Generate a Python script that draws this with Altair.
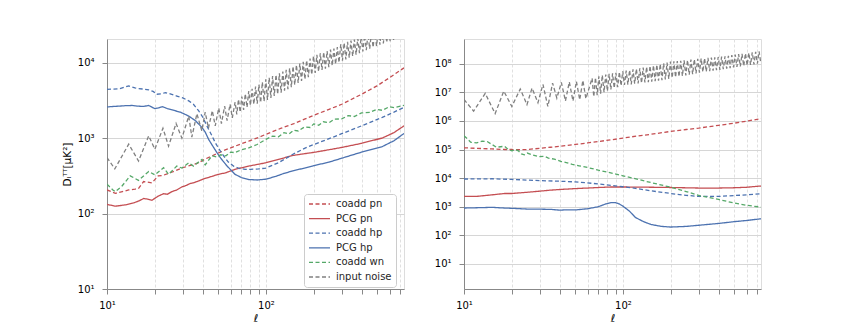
import altair as alt
import pandas as pd

SERIES = ["coadd pn", "PCG pn", "coadd hp", "PCG hp", "coadd wn", "input noise"]
COLORS = ["#C44E52", "#C44E52", "#4C72B0", "#4C72B0", "#55A868", "#808080"]
DASHES = [[4, 2.5], [1, 0], [4, 2.5], [1, 0], [4, 2.5], [4, 2.5]]
L_WIDTHS = [1.3, 1.3, 1.3, 1.3, 1.5, 1.3]
R_WIDTHS = [1.3, 1.3, 1.3, 1.3, 1.8, 1.3]

X_TICKS = [10, 20, 30, 40, 50, 60, 70, 80, 90, 100, 200, 300, 400, 500, 600, 700]
L_Y_TICKS = [10, 100, 1000, 10000]
R_Y_TICKS = [10, 1e2, 1e3, 1e4, 1e5, 1e6, 1e7, 1e8]

# ---------------- left panel ----------------
L_coadd_pn_ell = [10, 11.3, 12.5, 13.7, 15, 15.8, 17, 18, 19.2, 21, 22.5, 24.4, 27, 29.6, 33, 37.7, 41, 45.7,
                  50, 55, 64, 70, 78, 90, 100, 125, 150, 175, 200, 250, 300, 400, 500, 600, 740]
L_coadd_pn = [205, 185, 195, 205, 210, 215, 265, 260, 255, 315, 320, 340, 370, 400, 430, 470, 520, 580,
              630, 690, 780, 840, 910, 1020, 1120, 1350, 1550, 1780, 2000, 2400, 2800, 3800, 4900, 6300, 8500]

L_pcg_pn_ell = [10, 11.3, 13, 14.7, 16, 17, 18, 19.2, 21, 22.7, 24, 25.6, 27.5, 29.6, 31.5, 33.4, 35, 37.7, 41,
                45.7, 50, 55.5, 64, 78, 90, 100, 120, 146, 175, 200, 250, 300, 400, 540, 640, 740]
L_pcg_pn = [132, 125, 130, 138, 148, 158, 155, 150, 170, 183, 180, 195, 205, 225, 235, 250, 255, 270, 290,
            310, 330, 345, 385, 425, 450, 470, 520, 585, 620, 645, 700, 750, 850, 1000, 1180, 1450]

L_coadd_hp_ell = [10, 11, 12, 13, 13.7, 15, 15.8, 17, 18.3, 19.5, 20.6, 22, 23.3, 25, 27.5, 30, 32.7, 35, 37.7,
                  40, 42.5, 45, 48, 51, 54.2, 58, 62.6, 68, 74, 80, 90, 100, 120, 146, 175, 200, 250, 300,
                  400, 540, 640, 740]
L_coadd_hp = [4400, 4450, 4500, 4750, 4900, 4600, 4500, 4450, 4350, 4150, 3800, 3850, 4000, 3850, 3600, 3400,
              3100, 2800, 2300, 1900, 1450, 1150, 870, 700, 580, 480, 425, 395, 385, 385, 390, 400, 470, 600,
              730, 820, 980, 1140, 1450, 1880, 2200, 2550]

L_pcg_hp_ell = [10, 11, 12, 13, 14.4, 15.5, 17, 18.3, 20, 21, 22.4, 24, 26.8, 29, 32.7, 36, 39.6, 41.5, 43.6,
                46, 49.2, 52, 56.7, 60, 64, 70, 78, 88, 100, 115, 130, 150, 175, 200, 250, 300, 400, 540,
                640, 740]
L_pcg_hp = [2580, 2620, 2650, 2680, 2700, 2650, 2620, 2700, 2450, 2500, 2600, 2450, 2300, 2200, 1950, 1700,
            1380, 1200, 960, 800, 640, 540, 430, 380, 330, 300, 282, 278, 285, 310, 340, 370, 400, 430, 480,
            540, 650, 770, 920, 1150]

L_coadd_wn_ell = [10, 10.9, 11.3, 12.4, 14, 15.8, 18.3, 20, 22.7, 24.4, 27.5, 29.6, 32.7, 35, 39.6, 41.5, 45.7,
                  49.2, 52, 56, 60, 64, 70, 78, 88, 100, 110, 120, 130, 140, 150, 160, 175, 190, 200, 215,
                  230, 250, 270, 300, 330, 360, 400, 450, 500, 540, 600, 640, 740]
L_coadd_wn = [245, 205, 195, 230, 315, 275, 360, 325, 405, 330, 425, 400, 470, 425, 520, 440, 580,
              560, 600, 580, 650, 640, 700, 740, 820, 960, 1060, 1040, 1180, 1130, 1270, 1240, 1400, 1380,
              1540, 1480, 1640, 1600, 1780, 1790, 1980, 1930, 2150, 2180, 2400, 2330, 2600, 2530, 2700]

L_noise_lo_ell = [10, 11.2, 13.7, 15.8, 18.3, 20, 22.5, 24.4, 27.2, 29.6, 32.7, 34.2, 36.8, 39.5, 41.5, 43.5,
                  46, 48, 50.5, 52.5, 55, 57, 59.5, 61.5]
L_noise_lo = [550, 390, 830, 495, 1070, 710, 1350, 780, 1560, 1000, 1950, 1030, 2100, 1250, 2200, 1350,
              2300, 1450, 2500, 1550, 2650, 1700, 2800, 1850]

NOISE_HI_ELL = [64, 65.6, 67.2, 68.9, 70.6, 72.4, 74.2, 76.1, 78.0, 79.9, 81.9, 84.0, 86.1, 88.2, 90.4, 92.7,
                95.0, 97.4, 99.8, 102.3, 104.9, 107.5, 110.2, 112.9, 115.8, 118.6, 121.6, 124.7, 127.8, 131.0,
                134.2, 137.6, 141.0, 144.6, 148.2, 151.9, 155.7, 159.6, 163.5, 167.6, 171.8, 176.1, 180.5,
                185.0, 189.7, 194.4, 199.3, 204.3, 209.4, 214.6, 220.0, 225.5, 231.1, 236.9, 242.8, 248.9,
                255.1, 261.5, 268.0, 274.7, 281.6, 288.6, 295.9, 303.3, 310.8, 318.6, 326.6, 334.7, 343.1,
                351.7, 360.5, 369.5, 378.7, 388.2, 397.9, 407.8, 418.0, 428.5, 439.2, 450.2, 461.4, 473.0,
                484.8, 496.9, 509.3, 522.1, 535.1, 548.5, 562.2, 576.3, 590.7, 605.5, 620.6, 636.1, 652.0,
                668.3, 685.0, 702.2, 719.7, 737.7]
L_noise_hi = [3000, 2050, 3250, 2200, 3550, 2350, 3850, 2550, 4200, 2700, 4500, 2800, 4800, 2850, 5100, 2950,
              5500, 3050, 6000, 3200, 6300, 3400, 6600, 3600, 6900, 3800, 7200, 4000, 7600, 4250, 8000, 4450,
              8400, 4700, 8900, 5050, 9300, 5350, 9700, 5700, 10200, 6000, 10700, 6400, 11300, 6900, 12200,
              7300, 12700, 7600, 13200, 8000, 13700, 8300, 14200, 8700, 14800, 9100, 15300, 9500, 16000,
              10000, 17500, 10600, 18200, 11000, 18800, 11600, 19500, 12100, 20200, 12700, 21000, 13300,
              22000, 14000, 23000, 14600, 24000, 15200, 25000, 15900, 26000, 16500, 27000, 17200, 28000,
              17900, 29000, 18500, 30000, 19200, 31000, 19900, 32500, 20600, 34000, 21400, 35500, 22500]

# ---------------- right panel ----------------
R_coadd_pn_ell = [10, 12, 15, 18, 20, 23, 25, 30, 35, 40, 50, 60, 70, 85, 100, 125, 150, 200, 250, 300, 400,
                  500, 600, 740]
R_coadd_pn = [1.15e5, 1.1e5, 1.05e5, 1.0e5, 1.0e5, 0.98e5, 1.0e5, 1.1e5, 1.2e5, 1.3e5, 1.5e5, 1.7e5, 1.9e5,
              2.2e5, 2.5e5, 3.0e5, 3.4e5, 4.3e5, 5.0e5, 5.6e5, 7.0e5, 8.3e5, 9.8e5, 1.2e6]

R_pcg_pn_ell = [10, 12, 14, 16, 18, 20, 25, 30, 35, 40, 50, 60, 70, 85, 100, 150, 200, 300, 400, 500, 600, 740]
R_pcg_pn = [2.3e3, 2.3e3, 2.5e3, 2.7e3, 2.9e3, 2.9e3, 3.2e3, 3.5e3, 3.8e3, 4.0e3, 4.3e3, 4.5e3, 4.7e3, 4.9e3,
            4.9e3, 4.8e3, 4.7e3, 4.5e3, 4.5e3, 4.6e3, 4.8e3, 5.3e3]

R_coadd_hp_ell = [10, 15, 20, 30, 40, 50, 70, 85, 100, 120, 150, 200, 250, 300, 400, 500, 600, 740]
R_coadd_hp = [9.3e3, 9.5e3, 9.0e3, 8.2e3, 7.8e3, 7.4e3, 6.3e3, 5.5e3, 5.0e3, 4.4e3, 3.6e3, 2.9e3, 2.5e3,
              2.3e3, 2.3e3, 2.45e3, 2.6e3, 2.85e3]

R_pcg_hp_ell = [10, 12, 15, 18, 20, 25, 30, 35, 40, 45, 50, 60, 70, 78, 85, 90, 95, 100, 110, 120, 135, 150,
                175, 200, 250, 300, 400, 500, 600, 740]
R_pcg_hp = [900, 920, 950, 900, 880, 830, 820, 810, 760, 780, 770, 850, 1000, 1250, 1400, 1380, 1250, 1050,
            700, 420, 300, 240, 205, 195, 205, 225, 260, 300, 330, 380]

R_coadd_wn_ell = [10, 10.5, 11, 12, 13, 14, 15, 16, 17, 18, 19, 20, 21, 22, 23, 24, 25, 27, 29.5, 32, 34, 37,
                  41, 44, 48, 53, 61, 70, 85, 100, 125, 150, 200, 250, 300, 400, 500, 600, 740]
R_coadd_wn = [3.0e5, 2.4e5, 1.8e5, 1.7e5, 1.95e5, 1.9e5, 1.5e5, 1.2e5, 1.25e5, 1.3e5, 1.0e5, 9e4, 1.0e5,
              9e4, 7e4, 6.5e4, 7.5e4, 6.5e4, 5.6e4, 5.8e4, 5.0e4, 4.6e4, 3.8e4, 3.5e4, 3.0e4, 2.7e4, 2.3e4,
              1.9e4, 1.5e4, 1.2e4, 9.0e3, 7.0e3, 4.8e3, 3.4e3, 2.5e3, 1.8e3, 1.35e3, 1.12e3, 0.97e3]

R_noise_lo_ell = [10, 11.5, 13.6, 15.7, 17.8, 20, 22.6, 24.9, 26.8, 29.2, 31.4, 33.7, 36.1, 38.4, 41, 43.5,
                  46, 48.5, 51, 53.5, 56, 58.5]
R_noise_lo = [5.6e6, 2.2e6, 9.2e6, 1.8e6, 1.1e7, 3.2e6, 1.3e7, 3.7e6, 1.4e7, 4.3e6, 1.9e7, 3.2e6, 2.1e7,
              6.3e6, 2.2e7, 5e6, 2.3e7, 5e6, 2.4e7, 5.5e6, 2.6e7, 6e6]
R_noise_hi = [3.1e7, 7.0e6, 3.3e7, 8.0e6, 3.6e7, 9.0e6, 4.0e7, 1.0e7, 4.2e7, 1.1e7, 4.4e7, 1.25e7, 4.6e7,
              1.4e7, 4.8e7, 1.5e7, 5.1e7, 1.7e7, 5.4e7, 1.8e7, 5.7e7, 1.85e7, 6.0e7, 1.9e7, 6.3e7, 2.0e7,
              6.6e7, 2.05e7, 6.9e7, 2.1e7, 7.3e7, 2.2e7, 7.7e7, 2.25e7, 8.4e7, 2.35e7, 8.8e7, 2.45e7, 9.3e7,
              2.55e7, 9.8e7, 2.65e7, 1.03e8, 2.8e7, 1.09e8, 2.95e7, 1.18e8, 3.2e7, 1.22e8, 3.35e7, 1.24e8,
              3.5e7, 1.27e8, 3.7e7, 1.3e8, 3.9e7, 1.34e8, 4.1e7, 1.38e8, 4.3e7, 1.42e8, 4.6e7, 1.48e8, 4.9e7,
              1.52e8, 5.1e7, 1.56e8, 5.3e7, 1.6e8, 5.5e7, 1.64e8, 5.7e7, 1.68e8, 5.9e7, 1.72e8, 6.1e7, 1.76e8,
              6.4e7, 1.81e8, 6.7e7, 1.9e8, 7.0e7, 2.0e8, 7.4e7, 2.1e8, 7.7e7, 2.15e8, 8.0e7, 2.2e8, 8.3e7,
              2.3e8, 8.7e7, 2.4e8, 9.1e7, 2.5e8, 9.5e7, 2.6e8, 1.0e8, 2.7e8, 1.05e8]


def rows(pairs):
    out = []
    for name, ells, vals in pairs:
        for e, v in zip(ells, vals):
            out.append({"series": name, "ell": e, "value": v})
    return pd.DataFrame(out)


left_df = rows([
    ("coadd pn", L_coadd_pn_ell, L_coadd_pn),
    ("PCG pn", L_pcg_pn_ell, L_pcg_pn),
    ("coadd hp", L_coadd_hp_ell, L_coadd_hp),
    ("PCG hp", L_pcg_hp_ell, L_pcg_hp),
    ("coadd wn", L_coadd_wn_ell, L_coadd_wn),
    ("input noise", L_noise_lo_ell + NOISE_HI_ELL, L_noise_lo + L_noise_hi),
])
right_df = rows([
    ("coadd pn", R_coadd_pn_ell, R_coadd_pn),
    ("PCG pn", R_pcg_pn_ell, R_pcg_pn),
    ("coadd hp", R_coadd_hp_ell, R_coadd_hp),
    ("PCG hp", R_pcg_hp_ell, R_pcg_hp),
    ("coadd wn", R_coadd_wn_ell, R_coadd_wn),
    ("input noise", R_noise_lo_ell + NOISE_HI_ELL, R_noise_lo + R_noise_hi),
])

FONT = "DejaVu Sans"
SUP = "['⁰','¹','²','³','⁴','⁵','⁶','⁷','⁸','⁹']"
Y_LABEL_EXPR = "'10' + " + SUP + "[round(log(datum.value) / LN10)]"
X_LABEL_EXPR = "datum.value == 10 ? '10¹' : (datum.value == 100 ? '10²' : '')"


def panel(df, ydomain, yticks, ytitle, show_legend, widths):
    legend = alt.Legend(
        orient="none", legendX=197, legendY=155, title=None,
        symbolType="stroke", symbolSize=441, symbolStrokeWidth=1.5,
        labelFontSize=10, labelFont=FONT, labelColor="#262626",
        labelOffset=5, padding=4, rowPadding=2.6, clipHeight=12,
        strokeColor="#cccccc", fillColor="white", cornerRadius=3,
    ) if show_legend else None
    x_axis = alt.Axis(
        values=X_TICKS, labelExpr=X_LABEL_EXPR, title="ℓ", titleFontStyle="italic",
        titleFont=FONT, titleFontWeight="normal", labelFont=FONT, labelFontSize=10,
        titleFontSize=11, titlePadding=2, labelPadding=6, grid=True, gridDash=[3, 2],
        gridColor="#e0e0e0", labelOverlap=False, labelFlush=False,
    )
    y_kw = dict(values=yticks, labelExpr=Y_LABEL_EXPR, grid=True, gridColor="#d6d6d6",
                labelFont=FONT, labelFontSize=10,
                labelPadding=8, labelOverlap=False, labelFlush=False)
    if ytitle:
        y_axis = alt.Axis(title=ytitle, titlePadding=5, titleFontSize=10.5, titleFont=FONT,
                          titleFontWeight="normal", **y_kw)
    else:
        y_axis = alt.Axis(title=None, **y_kw)
    return alt.Chart(df).mark_line(clip=True).encode(
        x=alt.X("ell:Q", scale=alt.Scale(type="log", domain=[10, 740]), axis=x_axis),
        y=alt.Y("value:Q", scale=alt.Scale(type="log", domain=ydomain), axis=y_axis),
        color=alt.Color("series:N", scale=alt.Scale(domain=SERIES, range=COLORS), legend=legend),
        strokeDash=alt.StrokeDash("series:N", scale=alt.Scale(domain=SERIES, range=DASHES), legend=legend),
        strokeWidth=alt.StrokeWidth("series:N", scale=alt.Scale(domain=SERIES, range=widths), legend=None),
    ).properties(width=297, height=250)


left = panel(left_df, [10, 2.05e4], L_Y_TICKS, "Dₗᵀᵀ[μK²]", True, L_WIDTHS)
right = panel(right_df, [1.33, 7.3e8], R_Y_TICKS, None, False, R_WIDTHS)

chart = alt.hconcat(left, right, spacing=28).resolve_scale(
    color="independent", strokeDash="independent", strokeWidth="independent"
).resolve_legend(
    color="independent", strokeDash="independent"
).properties(
    padding={"left": 53, "top": 30, "right": 5, "bottom": 5}
).configure_view(
    stroke="#cccccc", strokeWidth=1
).configure_axis(
    labelFont=FONT, labelFontSize=10, labelColor="#262626",
    titleFont=FONT, titleColor="#262626", titleFontWeight="normal",
    ticks=False, domain=False,
).configure(background="white", font=FONT)

chart.save("out.html", embed_options={"renderer": "svg", "actions": False})
